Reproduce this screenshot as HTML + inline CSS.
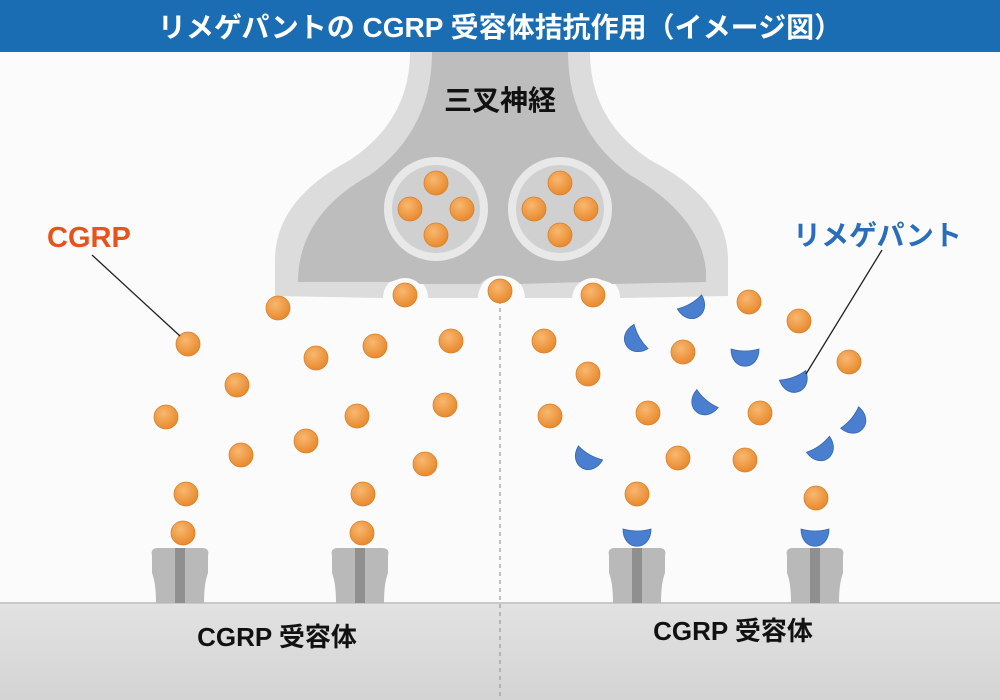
<!DOCTYPE html>
<html><head><meta charset="utf-8"><style>
body{margin:0;width:1000px;height:700px;overflow:hidden;background:#fbfbfb;font-family:"Liberation Sans","Noto Sans CJK JP",sans-serif}
</style></head><body>
<svg width="1000" height="700" viewBox="0 0 1000 700" xmlns="http://www.w3.org/2000/svg" style="position:absolute;left:0;top:0">
<defs>
<radialGradient id="og" cx="40%" cy="35%" r="65%"><stop offset="0" stop-color="#f8b870"/><stop offset="1" stop-color="#e88a2e"/></radialGradient>
<linearGradient id="mem" x1="0" y1="0" x2="0" y2="1"><stop offset="0" stop-color="#e2e2e2"/><stop offset="1" stop-color="#d4d4d4"/></linearGradient>
</defs>
<rect x="0" y="0" width="1000" height="52" fill="#1b6db3"/>
<text x="500" y="37" text-anchor="middle" font-size="28" font-weight="bold" fill="#fff">リメゲパントの CGRP 受容体拮抗作用（イメージ図）</text>
<path d="M410,52 L590,52 Q590,120 650,160 Q728,200 728,260 L728,296 L620,298 A22,22 0 0 0 575,298 L525,298 A22,22 0 0 0 478,298 L428,298 A22,22 0 0 0 383,298 L275,296 L275,260 Q275,200 350,160 Q410,120 410,52Z" fill="#dcdcdc"/>
<path d="M432,52 L568,52 Q568,130 630,175 Q700,215 706,270 L706,282 L612,284 A30,30 0 0 0 585,282 L520,284 A28,28 0 0 0 480,284 L418,284 A30,30 0 0 0 390,282 L298,282 Q298,215 370,175 Q432,130 432,52Z" fill="#bdbdbd"/>
<circle cx="405" cy="299" r="21" fill="#fbfbfb"/><circle cx="500" cy="298" r="22" fill="#fbfbfb"/><circle cx="593" cy="299" r="21" fill="#fbfbfb"/>
<text x="500" y="110" text-anchor="middle" font-size="28" font-weight="bold" fill="#111">三叉神経</text>
<circle cx="436" cy="209" r="52" fill="#e8e8e8"/><circle cx="436" cy="209" r="44" fill="#d0d0d0"/>
<circle cx="560" cy="209" r="52" fill="#e8e8e8"/><circle cx="560" cy="209" r="44" fill="#d0d0d0"/>
<rect x="0" y="603" width="1000" height="97" fill="url(#mem)"/>
<line x1="0" y1="603" x2="1000" y2="603" stroke="#c8c8c8" stroke-width="2"/>
<line x1="500" y1="300" x2="500" y2="700" stroke="#9a9a9a" stroke-width="1.2" stroke-dasharray="4,4"/>
<g>
<g transform="translate(180,548)"><path d="M-28,8 Q-30,0 -22,0 L-4,0 L-4,55 L-24,55 Q-24,35 -28,25Z" fill="#b9b9b9"/><path d="M28,8 Q30,0 22,0 L4,0 L4,55 L24,55 Q24,35 28,25Z" fill="#b9b9b9"/><rect x="-5" y="0" width="10" height="55" fill="#8f8f8f"/></g>
<g transform="translate(360,548)"><path d="M-28,8 Q-30,0 -22,0 L-4,0 L-4,55 L-24,55 Q-24,35 -28,25Z" fill="#b9b9b9"/><path d="M28,8 Q30,0 22,0 L4,0 L4,55 L24,55 Q24,35 28,25Z" fill="#b9b9b9"/><rect x="-5" y="0" width="10" height="55" fill="#8f8f8f"/></g>
<g transform="translate(637,548)"><path d="M-28,8 Q-30,0 -22,0 L-4,0 L-4,55 L-24,55 Q-24,35 -28,25Z" fill="#b9b9b9"/><path d="M28,8 Q30,0 22,0 L4,0 L4,55 L24,55 Q24,35 28,25Z" fill="#b9b9b9"/><rect x="-5" y="0" width="10" height="55" fill="#8f8f8f"/></g>
<g transform="translate(815,548)"><path d="M-28,8 Q-30,0 -22,0 L-4,0 L-4,55 L-24,55 Q-24,35 -28,25Z" fill="#b9b9b9"/><path d="M28,8 Q30,0 22,0 L4,0 L4,55 L24,55 Q24,35 28,25Z" fill="#b9b9b9"/><rect x="-5" y="0" width="10" height="55" fill="#8f8f8f"/></g>
</g>
<g fill="url(#og)" stroke="#d9802a" stroke-width="0.8">
<circle cx="436" cy="183" r="12"/><circle cx="410" cy="209" r="12"/><circle cx="462" cy="209" r="12"/><circle cx="436" cy="235" r="12"/>
<circle cx="560" cy="183" r="12"/><circle cx="534" cy="209" r="12"/><circle cx="586" cy="209" r="12"/><circle cx="560" cy="235" r="12"/>
<circle cx="278" cy="308" r="12"/><circle cx="405" cy="295" r="12"/><circle cx="500" cy="291" r="12"/><circle cx="593" cy="295" r="12"/>
<circle cx="188" cy="344" r="12"/><circle cx="237" cy="385" r="12"/><circle cx="316" cy="358" r="12"/><circle cx="375" cy="346" r="12"/><circle cx="451" cy="341" r="12"/>
<circle cx="166" cy="417" r="12"/><circle cx="241" cy="455" r="12"/><circle cx="306" cy="441" r="12"/><circle cx="357" cy="416" r="12"/><circle cx="445" cy="405" r="12"/><circle cx="425" cy="464" r="12"/>
<circle cx="186" cy="494" r="12"/><circle cx="363" cy="494" r="12"/><circle cx="183" cy="533" r="12"/><circle cx="362" cy="533" r="12"/>
<circle cx="544" cy="341" r="12"/><circle cx="588" cy="374" r="12"/><circle cx="683" cy="352" r="12"/><circle cx="749" cy="302" r="12"/><circle cx="799" cy="321" r="12"/><circle cx="849" cy="362" r="12"/>
<circle cx="550" cy="416" r="12"/><circle cx="648" cy="413" r="12"/><circle cx="760" cy="413" r="12"/><circle cx="678" cy="458" r="12"/><circle cx="745" cy="460" r="12"/>
<circle cx="637" cy="494" r="12"/><circle cx="816" cy="498" r="12"/>
</g>
<g fill="#4a7fcf" stroke="#3565b0" stroke-width="0.8">
<path d="M-14,-7 C-14,16 14,16 14,-7 Q0,-3 -14,-7Z" transform="translate(637,536)"/>
<path d="M-14,-7 C-14,16 14,16 14,-7 Q0,-3 -14,-7Z" transform="translate(815,536)"/>
<path d="M-14,-7 C-14,16 14,16 14,-7 Q0,-3 -14,-7Z" transform="translate(635,340) rotate(60)"/>
<path d="M-14,-7 C-14,16 14,16 14,-7 Q0,-3 -14,-7Z" transform="translate(693,308) rotate(-30)"/>
<path d="M-14,-7 C-14,16 14,16 14,-7 Q0,-3 -14,-7Z" transform="translate(745,356) rotate(0)"/>
<path d="M-14,-7 C-14,16 14,16 14,-7 Q0,-3 -14,-7Z" transform="translate(795,382) rotate(-20)"/>
<path d="M-14,-7 C-14,16 14,16 14,-7 Q0,-3 -14,-7Z" transform="translate(703,404) rotate(40)"/>
<path d="M-14,-7 C-14,16 14,16 14,-7 Q0,-3 -14,-7Z" transform="translate(855,422) rotate(-50)"/>
<path d="M-14,-7 C-14,16 14,16 14,-7 Q0,-3 -14,-7Z" transform="translate(822,450) rotate(-35)"/>
<path d="M-14,-7 C-14,16 14,16 14,-7 Q0,-3 -14,-7Z" transform="translate(587,459) rotate(30)"/>
</g>
<line x1="92" y1="255" x2="180" y2="336" stroke="#222" stroke-width="1.3"/>
<line x1="882" y1="250" x2="806" y2="374" stroke="#222" stroke-width="1.3"/>
<text x="47" y="247" font-size="29" font-weight="bold" fill="#e8531c">CGRP</text>
<text x="793" y="245" font-size="28" font-weight="bold" fill="#2a6ebb">リメゲパント</text>
<text x="277" y="646" text-anchor="middle" font-size="26" font-weight="bold" fill="#111">CGRP 受容体</text>
<text x="733" y="640" text-anchor="middle" font-size="26" font-weight="bold" fill="#111">CGRP 受容体</text>
</svg>
</body></html>
